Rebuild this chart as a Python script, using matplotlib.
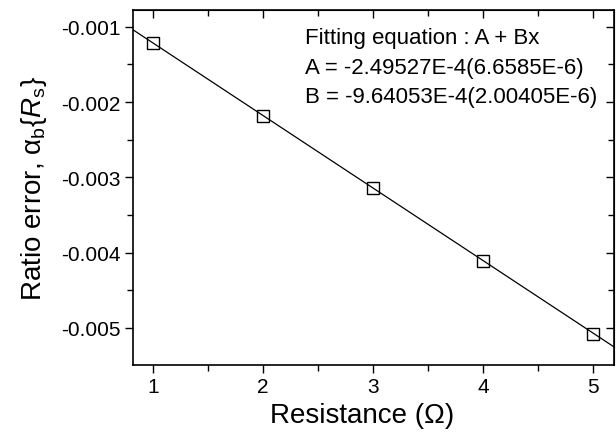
import matplotlib
matplotlib.use("Agg")
import matplotlib.pyplot as plt
from matplotlib.ticker import FixedLocator, MultipleLocator, FuncFormatter
import numpy as np

plt.rcParams['font.family'] = ['Liberation Sans', 'DejaVu Sans']
plt.rcParams['mathtext.fontset'] = 'custom'
plt.rcParams['mathtext.rm'] = 'Liberation Sans'
plt.rcParams['mathtext.it'] = 'Liberation Sans:italic'
plt.rcParams['mathtext.bf'] = 'Liberation Sans:bold'
plt.rcParams['axes.unicode_minus'] = False

# Data
resistance = [1, 2, 3, 4, 5]
ratio_error = [-0.00122, -0.00218, -0.00314, -0.00411, -0.00508]
fit_A = -2.49527e-4
fit_B = -9.64053e-4
x_ticks = [1, 2, 3, 4, 5]
y_ticks = [-0.001, -0.002, -0.003, -0.004, -0.005]
eq_lines = ["Fitting equation : A + Bx",
            "A = -2.49527E-4(6.6585E-6)",
            "B = -9.64053E-4(2.00405E-6)"]

fig = plt.figure(figsize=(6.16, 4.35), dpi=100)
ax = fig.add_axes([0.216, 0.159, 0.781, 0.816])

xlim = (0.82, 5.19)
ylim = (-0.00549, -0.000775)

fx = np.array(xlim)
ax.plot(fx, fit_A + fit_B * fx, color='black', lw=0.9)
ax.plot(resistance, ratio_error, linestyle='none', marker='s', ms=8,
        mfc='none', mec='black', mew=1.0)

ax.set_xlim(*xlim)
ax.set_ylim(*ylim)

ax.xaxis.set_major_locator(FixedLocator(x_ticks))
ax.xaxis.set_minor_locator(MultipleLocator(0.5))
ax.yaxis.set_major_locator(FixedLocator(y_ticks))
ax.yaxis.set_minor_locator(MultipleLocator(0.0005))
ax.xaxis.set_major_formatter(FuncFormatter(lambda v, p: f"{v:g}"))
ax.yaxis.set_major_formatter(FuncFormatter(lambda v, p: f"{v:.3f}"))

ax.tick_params(axis='both', which='major', direction='out', length=6, width=1.0,
               labelsize=15, pad=3)
ax.tick_params(axis='both', which='minor', direction='out', length=4, width=1.0)
ax.tick_params(top=False, right=False, which='both')

# mirrored inward ticks on top/right
axt = ax.secondary_xaxis('top')
axt.xaxis.set_major_locator(FixedLocator(x_ticks))
axt.xaxis.set_minor_locator(MultipleLocator(0.5))
axt.tick_params(which='major', direction='in', length=6, width=1.0, labeltop=False)
axt.tick_params(which='minor', direction='in', length=4, width=1.0)
axr = ax.secondary_yaxis('right')
axr.yaxis.set_major_locator(FixedLocator(y_ticks))
axr.yaxis.set_minor_locator(MultipleLocator(0.0005))
axr.tick_params(which='major', direction='in', length=6, width=1.0, labelright=False)
axr.tick_params(which='minor', direction='in', length=4, width=1.0)

for s in ax.spines.values():
    s.set_linewidth(1.2)

ax.set_xlabel("Resistance (Ω)", fontsize=20)
ax.xaxis.set_label_coords(0.476, -0.105)
ax.set_ylabel(r"Ratio error, α$_\mathrm{b}${$\mathit{R}_\mathrm{s}$}", fontsize=20, labelpad=9)

for i, t in enumerate(eq_lines):
    ax.text(0.357, 0.921 - i * 0.082, t, transform=ax.transAxes, fontsize=16,
            ha='left', va='center')

fig.savefig("out.png", dpi=100)
